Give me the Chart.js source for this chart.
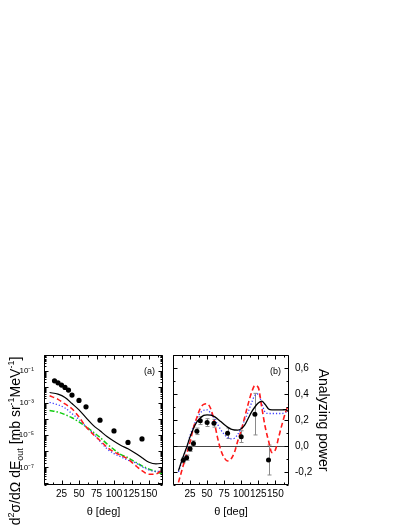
<!DOCTYPE html>
<html>
<head>
<meta charset="utf-8">
<script src="https://cdn.jsdelivr.net/npm/chart.js@4.4.1/dist/chart.umd.min.js"></script>
<style>
  html, body { margin: 0; padding: 0; background: #fff; }
  #wrap { position: relative; width: 408px; height: 528px; }
  canvas { position: absolute; left: 0; top: 0; }
</style>
</head>
<body>
<div id="wrap">
  <canvas id="crossSection" width="408" height="528"></canvas>
  <canvas id="analyzingPower" width="408" height="528"></canvas>
</div>
<script>
// measured angles (deg), same for both panels
const expAngles = [15, 20, 25, 30, 35, 40, 50, 60, 80, 100, 120, 140];

// (a) cross section, mb sr^-1 MeV^-1
const expXsec = [2.45e-2, 1.86e-2, 1.33e-2, 9.5e-3, 6.5e-3, 3.2e-3, 1.48e-3, 5.9e-4, 8.7e-5, 1.86e-5, 3.6e-6, 5.9e-6];
const xsecAngles = [8, 20, 30, 40, 50, 60, 70, 80, 90, 100, 110, 120, 130, 140, 150, 160, 170];
const xsecSolid  = [4.6e-3, 3.63e-3, 2.29e-3, 9.5e-4, 3.8e-4, 1.26e-4, 4.3e-5, 1.9e-5, 8.3e-6, 4.2e-6, 2.3e-6, 1.45e-6, 7.9e-7, 4.0e-7, 2.1e-7, 1.66e-7, 1.8e-7];
const xsecDashed = [2.9e-3, 1.74e-3, 8.9e-4, 4.5e-4, 1.38e-4, 3.4e-5, 1.17e-5, 4.7e-6, 1.82e-6, 9.1e-7, 5.6e-7, 3.2e-7, 1.38e-7, 6.2e-8, 3.7e-8, 3.9e-8, 8.1e-8];
const xsecDotted = [1.12e-3, 7.9e-4, 5.0e-4, 2.2e-4, 9.8e-5, 3.4e-5, 1.35e-5, 4.2e-6, 1.45e-6, 7.2e-7, 4.5e-7, 2.8e-7, 2.0e-7, 1.1e-7, 6.9e-8, 5.5e-8, 6.2e-8];
const xsecDashDot = [3.5e-4, 2.8e-4, 1.95e-4, 1.23e-4, 6.9e-5, 3.4e-5, 1.62e-5, 7.4e-6, 2.9e-6, 1.29e-6, 6.3e-7, 4.0e-7, 2.2e-7, 1.23e-7, 7.8e-8, 5.5e-8, 3.9e-8];

// (b) analyzing power
const expAy    = [-0.11, -0.09, -0.022, 0.02, 0.113, 0.195, 0.18, 0.175, 0.098, 0.072, 0.245, -0.108];
const expAyErr = [0.02, 0.02, 0.02, 0.02, 0.025, 0.03, 0.03, 0.03, 0.04, 0.045, 0.16, 0.115];
const ayAngles = [8, 15, 20, 25, 30, 35, 40, 45, 50, 55, 60, 65, 70, 75, 80, 85, 90, 95, 100, 105, 110, 115, 120, 125, 130, 135, 140, 145, 150, 155, 160, 165, 170];
const aySolid  = [-0.19, -0.08, -0.01, 0.07, 0.135, 0.185, 0.215, 0.235, 0.24, 0.237, 0.228, 0.21, 0.188, 0.165, 0.145, 0.13, 0.123, 0.122, 0.132, 0.16, 0.21, 0.26, 0.3, 0.33, 0.345, 0.32, 0.285, 0.278, 0.278, 0.278, 0.278, 0.28, 0.26];
const ayDashed = [-0.28, -0.15, -0.06, 0.03, 0.14, 0.22, 0.29, 0.32, 0.325, 0.29, 0.2, 0.07, -0.03, -0.09, -0.115, -0.1, -0.05, 0.04, 0.12, 0.22, 0.32, 0.41, 0.465, 0.45, 0.3, 0.15, 0.04, -0.05, -0.03, 0.07, 0.17, 0.26, 0.33];
const ayDotted = [-0.2, -0.085, -0.01, 0.08, 0.15, 0.21, 0.255, 0.275, 0.278, 0.255, 0.215, 0.17, 0.125, 0.09, 0.065, 0.055, 0.06, 0.09, 0.14, 0.2, 0.26, 0.33, 0.39, 0.4, 0.33, 0.26, 0.25, 0.25, 0.25, 0.25, 0.25, 0.26, 0.27];

// tick labels
const xTickValues = [25, 50, 75, 100, 125, 150];
const xsecTickValues = [1e-1, 1e-3, 1e-5, 1e-7];
const xsecTickLabels = ['10\u207B\u00B9', '10\u207B\u00B3', '10\u207B\u2075', '10\u207B\u2077'];
const ayTickValues = [-0.2, 0, 0.2, 0.4, 0.6];
const ayTickLabels = ['-0,2', '0,0', '0,2', '0,4', '0,6'];

const FONT = "'Liberation Sans', Arial, sans-serif";
Chart.defaults.font.family = FONT;
Chart.defaults.color = '#000';

const pairs = (xs, ys) => xs.map((x, i) => ({ x: x, y: ys[i] }));

// box round the plot with inward ticks on all four sides, plus the panel letter
const framePlugin = {
  id: 'frame',
  afterDraw(chart, args, opts) {
    const { ctx, chartArea: a, scales: { x, y } } = chart;
    const L = Math.round(a.left) + 0.5, R = Math.round(a.right) - 0.5;
    const T = Math.round(a.top) + 0.5, B = Math.round(a.bottom) - 0.5;
    ctx.save();
    ctx.strokeStyle = '#000';
    ctx.lineWidth = 1;
    ctx.beginPath();
    ctx.rect(L, T, R - L, B - T);
    for (let v = x.min; v <= x.max; v += 12.5) {
      const px = Math.round(x.getPixelForValue(v)) + 0.5;
      const len = v % 25 === 0 ? 4 : 2;
      ctx.moveTo(px, B); ctx.lineTo(px, B - len);
      ctx.moveTo(px, T); ctx.lineTo(px, T + len);
    }
    const yTicks = [];
    if (opts.log) {
      for (let d = -9; d <= 0; d++) {
        for (let k = 1; k <= 9; k++) {
          const v = k * Math.pow(10, d);
          if (v >= y.min && v <= y.max) yTicks.push([v, k === 1 ? 4 : 2]);
        }
      }
    } else {
      for (let i = Math.ceil(y.min * 10); i <= Math.floor(y.max * 10); i++) {
        yTicks.push([i / 10, i % 2 === 0 ? 4 : 2]);
      }
    }
    yTicks.forEach(([v, len]) => {
      const py = Math.round(y.getPixelForValue(v)) + 0.5;
      ctx.moveTo(L, py); ctx.lineTo(L + len, py);
      ctx.moveTo(R, py); ctx.lineTo(R - len, py);
    });
    ctx.stroke();
    ctx.font = '9px ' + FONT;
    ctx.fillStyle = '#000';
    ctx.textAlign = 'right';
    ctx.textBaseline = 'middle';
    ctx.fillText(opts.label, a.right - 8, a.top + 17);
    ctx.restore();
  }
};

// y title of (a) needs super- and subscripts, so it is set piece by piece
const richTitle = {
  id: 'richTitle',
  afterDraw(chart, args, opts) {
    const ctx = chart.ctx;
    const big = 14, small = 9;
    const parts = [
      ['d'], ['2', 'sup'], ['\u03C3/d\u03A9 dE'], ['out', 'sub'],
      [' [mb sr'], ['-1', 'sup'], ['MeV'], ['-1', 'sup'], [']']
    ];
    ctx.save();
    ctx.translate(15, 441);
    ctx.rotate(-Math.PI / 2);
    ctx.fillStyle = '#000';
    ctx.textBaseline = 'alphabetic';
    ctx.textAlign = 'left';
    let total = 0;
    parts.forEach(p => {
      ctx.font = (p[1] ? small : big) + 'px ' + FONT;
      total += ctx.measureText(p[0]).width;
    });
    let cx = -total / 2;
    parts.forEach(p => {
      ctx.font = (p[1] ? small : big) + 'px ' + FONT;
      const dy = p[1] === 'sup' ? -6 : p[1] === 'sub' ? 3 : 0;
      ctx.fillText(p[0], cx, 5 + dy);
      cx += ctx.measureText(p[0]).width;
    });
    ctx.restore();
  }
};

// vertical error bars for the measured analyzing power
const errorBars = {
  id: 'errorBars',
  beforeDatasetsDraw(chart) {
    const { ctx, scales: { x, y } } = chart;
    ctx.save();
    ctx.strokeStyle = '#8a8a8a';
    ctx.lineWidth = 1;
    ctx.beginPath();
    expAngles.forEach((ang, i) => {
      const px = Math.round(x.getPixelForValue(ang)) + 0.5;
      const top = y.getPixelForValue(expAy[i] + expAyErr[i]);
      const bot = y.getPixelForValue(expAy[i] - expAyErr[i]);
      ctx.moveTo(px, top); ctx.lineTo(px, bot);
      ctx.moveTo(px - 2, top); ctx.lineTo(px + 2, top);
      ctx.moveTo(px - 2, bot); ctx.lineTo(px + 2, bot);
    });
    ctx.stroke();
    ctx.restore();
  }
};

function xAxis() {
  return {
    type: 'linear',
    min: 0,
    max: 170,
    afterBuildTicks: s => { s.ticks = xTickValues.map(v => ({ value: v })); },
    afterFit: s => { s.height = 43; },
    grid: { display: false },
    border: { display: false },
    ticks: { padding: -5, font: { size: 10 }, maxRotation: 0, autoSkip: false },
    title: { display: true, text: '\u03B8 [deg]', font: { size: 11 }, padding: { top: 0, bottom: 9 } }
  };
}

const curve = (color, dash, width) => ({
  borderColor: color, borderWidth: width, borderDash: dash,
  pointRadius: 0, fill: false, cubicInterpolationMode: 'monotone'
});

new Chart(document.getElementById('crossSection'), {
  type: 'line',
  data: {
    datasets: [
      { data: pairs(expAngles, expXsec), showLine: false, pointRadius: 2.6, pointBackgroundColor: '#000', pointBorderWidth: 0 },
      Object.assign({ data: pairs(xsecAngles, xsecSolid) }, curve('#000', [], 1.2)),
      Object.assign({ data: pairs(xsecAngles, xsecDashed) }, curve('#ff1a1a', [5, 3], 1.5)),
      Object.assign({ data: pairs(xsecAngles, xsecDotted) }, curve('#3a3aff', [1.2, 2], 1.3)),
      Object.assign({ data: pairs(xsecAngles, xsecDashDot) }, curve('#11cc11', [5, 2, 1.5, 2], 1.5))
    ]
  },
  options: {
    responsive: false,
    animation: false,
    events: [],
    layout: { padding: { left: 14, top: 355, right: 245, bottom: 0 } },
    plugins: {
      legend: { display: false },
      tooltip: { enabled: false },
      frame: { label: '(a)', log: true }
    },
    scales: {
      x: xAxis(),
      y: {
        type: 'logarithmic',
        min: 8e-9,
        max: 1,
        afterBuildTicks: s => { s.ticks = xsecTickValues.map(v => ({ value: v })); },
        afterFit: s => { s.width = 30; },
        grid: { display: false },
        border: { display: false },
        ticks: { padding: 2, font: { size: 8 }, autoSkip: false, callback: (v, i) => xsecTickLabels[i] }
      }
    }
  },
  plugins: [framePlugin, richTitle]
});

new Chart(document.getElementById('analyzingPower'), {
  type: 'line',
  data: {
    datasets: [
      { data: pairs(expAngles, expAy), showLine: false, pointRadius: 2.5, pointBackgroundColor: '#000', pointBorderWidth: 0 },
      Object.assign({ data: pairs(ayAngles, aySolid) }, curve('#000', [], 1.3)),
      Object.assign({ data: pairs(ayAngles, ayDashed) }, curve('#ff1a1a', [5, 3], 1.6)),
      Object.assign({ data: pairs(ayAngles, ayDotted) }, curve('#3a3aff', [1.2, 2], 1.3))
    ]
  },
  options: {
    responsive: false,
    animation: false,
    events: [],
    layout: { padding: { left: 173, top: 355, right: 74, bottom: 0 } },
    plugins: {
      legend: { display: false },
      tooltip: { enabled: false },
      frame: { label: '(b)', log: false }
    },
    scales: {
      x: xAxis(),
      y: {
        type: 'linear',
        position: 'right',
        min: -0.3,
        max: 0.7,
        afterBuildTicks: s => { s.ticks = ayTickValues.map(v => ({ value: v })); },
        afterFit: s => { s.width = 45; },
        grid: {
          drawTicks: false,
          color: c => (c.tick && c.tick.value === 0 ? '#444' : 'rgba(0,0,0,0)'),
          lineWidth: 1
        },
        border: { display: false },
        ticks: { padding: 6, font: { size: 10 }, autoSkip: false, callback: (v, i) => ayTickLabels[i] },
        title: { display: true, text: 'Analyzing power', font: { size: 14 }, padding: { top: 3, bottom: 0 } }
      }
    }
  },
  plugins: [framePlugin, errorBars]
});
</script>
</body>
</html>
